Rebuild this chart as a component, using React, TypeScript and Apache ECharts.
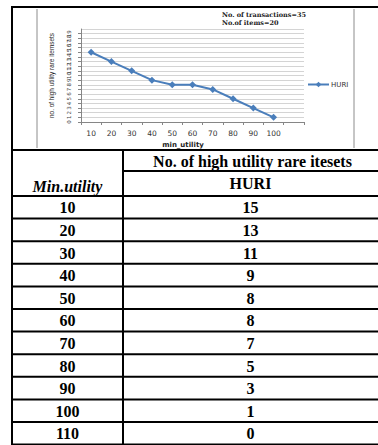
import React, { useEffect, useRef } from "react";
import * as echarts from "echarts";

const minUtility = [10, 20, 30, 40, 50, 60, 70, 80, 90, 100, 110];
const huri = [15, 13, 11, 9, 8, 8, 7, 5, 3, 1, 0];
const chartPointCount = 10; // the chart plots 10..100
const seriesName = "HURI";
const noteLines = ["No. of transactions=35", "No.of items=20"];
const yAxisTitle = "no. of high utility rare itemsets";
const xAxisTitle = "min_utility";
const tableHeader = "No. of high utility rare itesets";
const tableColHeader = "Min.utility";

export default function App() {
  const ref = useRef<HTMLDivElement>(null);
  useEffect(() => {
    if (!ref.current) return;
    const chart = echarts.init(ref.current, undefined, { renderer: "svg" });

    const W = 378;
    const L = 12;
    const mid = 123;
    const topY = 7;
    const headTop = 150;
    const headMid = 171;
    const headBottom = 196;
    const rowH = 22.6;
    const lw = 2;
    const black = "#000";
    const tFont = "Liberation Serif";

    const g: any[] = [];
    const hline = (x1: number, x2: number, y: number, w = lw, c = black) =>
      g.push({ type: "line", silent: true, shape: { x1, y1: y, x2, y2: y }, style: { stroke: c, lineWidth: w } });
    const vline = (x: number, y1: number, y2: number, w = lw, c = black) =>
      g.push({ type: "line", silent: true, shape: { x1: x, y1, x2: x, y2 }, style: { stroke: c, lineWidth: w } });
    const txt = (s: string, x: number, y: number, italic = false) =>
      g.push({
        type: "text",
        silent: true,
        x,
        y,
        style: {
          text: s,
          fontFamily: tFont,
          fontSize: 16,
          fontWeight: "bold",
          fontStyle: italic ? "italic" : "normal",
          fill: black,
          align: "center",
          verticalAlign: "middle",
        },
      });

    // outer / chart cell
    hline(L - 1, W, topY);
    vline(L, topY, 445);
    // chart frame
    vline(37, topY + 2, headTop - 2, 1, "#8c8c8c");
    vline(354, topY + 2, headTop - 2, 1, "#8c8c8c");
    // table
    hline(L - 1, W, headTop);
    hline(mid, W, headMid);
    hline(L - 1, W, headBottom);
    vline(mid, headTop, 445);
    minUtility.forEach((_, i) => hline(L - 1, W, headBottom + rowH * (i + 1)));

    txt(tableHeader, (mid + W) / 2 + 2, 161);
    txt(seriesName, (mid + W) / 2, 183);
    txt(tableColHeader, (L + mid) / 2, 186, true);
    minUtility.forEach((m, i) => {
      const cy = headBottom + rowH * (i + 0.5) + 0.5;
      txt(String(m), (L + mid) / 2, cy);
      txt(String(huri[i]), (mid + W) / 2, cy);
    });

    // notes in chart
    noteLines.forEach((s, i) =>
      g.push({
        type: "text",
        silent: true,
        x: 222,
        y: 15 + i * 8,
        style: {
          text: s,
          fontFamily: "DejaVu Serif",
          fontSize: 6.5,
          fontWeight: "bold",
          fill: "#222",
          align: "left",
          verticalAlign: "middle",
        },
      })
    );

    const cats = minUtility.map(String);
    const lastCat = cats[cats.length - 1];

    chart.setOption({
      animation: false,
      backgroundColor: "#fff",
      grid: { left: 81, right: 378 - 304, top: 29, bottom: 445 - 122, containLabel: false },
      legend: {
        data: [seriesName],
        left: 302,
        top: 76,
        itemWidth: 21,
        itemHeight: 7,
        itemGap: 0,
        textStyle: { fontSize: 7, color: "#333", fontFamily: "DejaVu Sans", padding: [0, 0, 0, -3] },
      },
      xAxis: {
        type: "category",
        data: cats,
        boundaryGap: true,
        axisLine: { lineStyle: { color: "#868686", width: 1 } },
        axisTick: { show: true, length: 3, lineStyle: { color: "#868686" } },
        axisLabel: {
          fontSize: 7.5,
          color: "#333",
          fontFamily: "DejaVu Sans",
          margin: 7,
          interval: 0,
          formatter: (v: string) => (v === lastCat ? "" : v),
        },
        name: xAxisTitle,
        nameLocation: "middle",
        nameGap: 19,
        nameTextStyle: {
          fontSize: 7,
          fontWeight: "bold",
          color: "#222",
          fontFamily: "DejaVu Sans",
          padding: [0, 19, 0, 0],
        },
      },
      yAxis: {
        type: "value",
        min: 0,
        max: 20,
        interval: 1,
        axisLine: { show: true, lineStyle: { color: "#868686", width: 1 } },
        axisTick: { show: true, length: 3, lineStyle: { color: "#868686" } },
        splitLine: { show: true, lineStyle: { color: "#d4d4d4", width: 1 } },
        axisLabel: { fontSize: 5.5, color: "#444", fontFamily: "DejaVu Sans", rotate: 90, margin: 9 },
        name: yAxisTitle,
        nameLocation: "middle",
        nameGap: 27,
        nameRotate: 90,
        nameTextStyle: {
          fontSize: 6.4,
          color: "#222",
          fontFamily: "Liberation Sans",
        },
      },
      series: [
        {
          name: seriesName,
          type: "line",
          data: huri.slice(0, chartPointCount),
          symbol: "diamond",
          symbolSize: 7,
          lineStyle: { color: "#4a7ebb", width: 2 },
          itemStyle: { color: "#4a7ebb" },
        },
      ],
      graphic: g,
    });
    return () => chart.dispose();
  }, []);
  return <div ref={ref} style={{ position: "absolute", left: 0, top: 0, width: 378, height: 445 }} />;
}
